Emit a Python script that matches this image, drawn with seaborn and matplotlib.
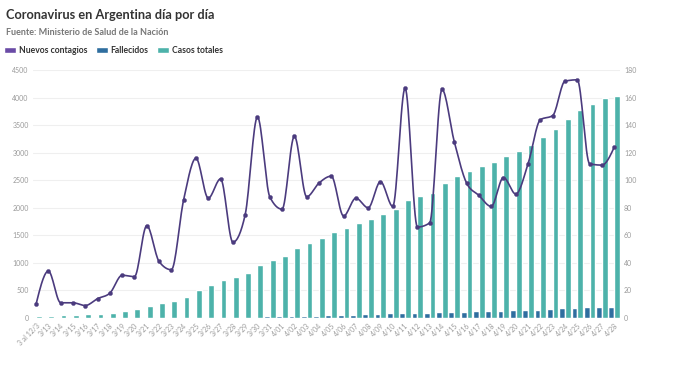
import numpy as np
import pandas as pd
import matplotlib
matplotlib.use("Agg")
from matplotlib import pyplot as plt
from matplotlib.patches import Patch
import seaborn as sns

# ---- datos ----
fechas = ["3 al 12/3"] + [f"3/{d}" for d in range(13, 32)] + [f"4/{d:02d}" for d in range(1, 29)]

casos_totales = [31, 34, 45, 56, 65, 79, 97, 128, 158, 225, 266, 301, 387, 502, 589,
                 690, 745, 820, 966, 1054,
                 1133, 1265, 1353, 1451, 1554, 1628, 1715, 1795, 1894, 1975, 2142, 2208,
                 2277, 2443, 2571, 2669, 2758, 2839, 2941, 3031, 3144, 3288, 3435, 3607,
                 3780, 3892, 4003, 4030]

fallecidos = [1, 2, 2, 2, 2, 2, 2, 3, 3, 4, 4, 4, 6, 8, 12, 17, 19, 23, 24, 27,
              28, 36, 39, 43, 44, 48, 56, 63, 72, 82, 83, 90, 97, 102, 111, 115, 123,
              129, 132, 136, 147, 152, 165, 176, 185, 192, 197, 207]

nuevos_contagios = [10, 34, 11, 11, 9, 14, 18, 31, 30, 67, 41, 35, 86, 116, 87, 101,
                    55, 75, 146, 88, 79, 132, 88, 98, 103, 74, 87, 80, 99, 81, 167, 66,
                    69, 166, 128, 98, 89, 81, 102, 90, 112, 144, 147, 172, 173, 112,
                    111, 124]

col_linea = "#4b3b7e"
col_leyenda_linea = "#6a4ba6"
col_fallecidos = "#2f6e9f"
col_casos = "#4db2aa"


def curva_monotona(y, n=16):
    """ Curva monotona (tipo d3.curveMonotoneX) solo para dibujar la linea """
    y = np.asarray(y, dtype=float)
    s = np.diff(y)
    m = np.zeros_like(y)
    for i in range(1, len(y) - 1):
        s0, s1 = s[i - 1], s[i]
        p = (s0 + s1) / 2
        m[i] = (np.sign(s0) + np.sign(s1)) * min(abs(s0), abs(s1), 0.5 * abs(p))
    m[0] = (3 * s[0] - m[1]) / 2
    m[-1] = (3 * s[-1] - m[-2]) / 2
    t = np.linspace(0, 1, n, endpoint=False)
    h00 = 2 * t**3 - 3 * t**2 + 1
    h10 = t**3 - 2 * t**2 + t
    h01 = -2 * t**3 + 3 * t**2
    h11 = t**3 - t**2
    xs, ys = [], []
    for i in range(len(y) - 1):
        xs.extend(i + t)
        ys.extend(h00 * y[i] + h10 * m[i] + h01 * y[i + 1] + h11 * m[i + 1])
    xs.append(len(y) - 1)
    ys.append(y[-1])
    return np.array(xs), np.array(ys)


sns.set_theme(style="white")
plt.rcParams['font.family'] = ['Lato', 'DejaVu Sans']

df_barras = pd.DataFrame({
    'fecha': fechas * 2,
    'serie': ['Fallecidos'] * len(fechas) + ['Casos totales'] * len(fechas),
    'valor': fallecidos + casos_totales,
})

fig = plt.figure(figsize=(6.96, 3.92), dpi=100)
ax = fig.add_axes([0.0474, 0.189, 0.843, 0.632])

sns.barplot(data=df_barras, x='fecha', y='valor', hue='serie',
            hue_order=['Fallecidos', 'Casos totales'],
            palette=[col_fallecidos, col_casos], width=0.94, gap=0,
            saturation=1, legend=False, ax=ax)

ax2 = ax.twinx()
xs, ys = curva_monotona(nuevos_contagios)
sns.lineplot(x=xs, y=ys, sort=False, estimator=None, color=col_linea, lw=1.2, ax=ax2)
sns.scatterplot(x=np.arange(len(nuevos_contagios)), y=nuevos_contagios, s=9,
                color=col_linea, edgecolor=None, ax=ax2, zorder=3)

ax.set_xlim(-0.25, 47.45)
ax.set_ylim(0, 4500)
ax2.set_ylim(0, 180)
ax.set_yticks(range(0, 4501, 500))
ax2.set_yticks(range(0, 181, 20))
ax.set_xlabel("")
ax.set_ylabel("")
ax2.set_ylabel("")

ax.yaxis.grid(True, color='#efefef', lw=0.8)
ax.set_axisbelow(True)
for a in (ax, ax2):
    for s in a.spines.values():
        s.set_visible(False)
    a.tick_params(axis='y', labelsize=5, colors='#9a9a9a', length=0, pad=3)

ax.set_xticks(range(len(fechas)))
ax.set_xticklabels(fechas, rotation=45, ha='right', rotation_mode='anchor',
                   fontsize=5, color='#9a9a9a')
ax.tick_params(axis='x', length=0, pad=3)

fig.text(0.009, 0.962, "Coronavirus en Argentina día por día", fontsize=9.2,
         weight='bold', color='#333333', va='center')
fig.text(0.009, 0.916, "Fuente: Ministerio de Salud de la Nación", fontsize=6.5,
         weight='bold', color='#777777', va='center')

handles = [Patch(facecolor=col_leyenda_linea, label='Nuevos contagios'),
           Patch(facecolor=col_fallecidos, label='Fallecidos'),
           Patch(facecolor=col_casos, label='Casos totales')]
leg = fig.legend(handles=handles, loc='center left', bbox_to_anchor=(0.0, 0.870),
                 ncol=3, frameon=False, fontsize=6.2, handlelength=1.4,
                 handleheight=0.7, columnspacing=1.0, handletextpad=0.3,
                 borderpad=0.2, borderaxespad=0.3)
for t in leg.get_texts():
    t.set_color('#333333')
    t.set_fontweight('bold')

plt.savefig("out.png", dpi=100)
plt.close()
